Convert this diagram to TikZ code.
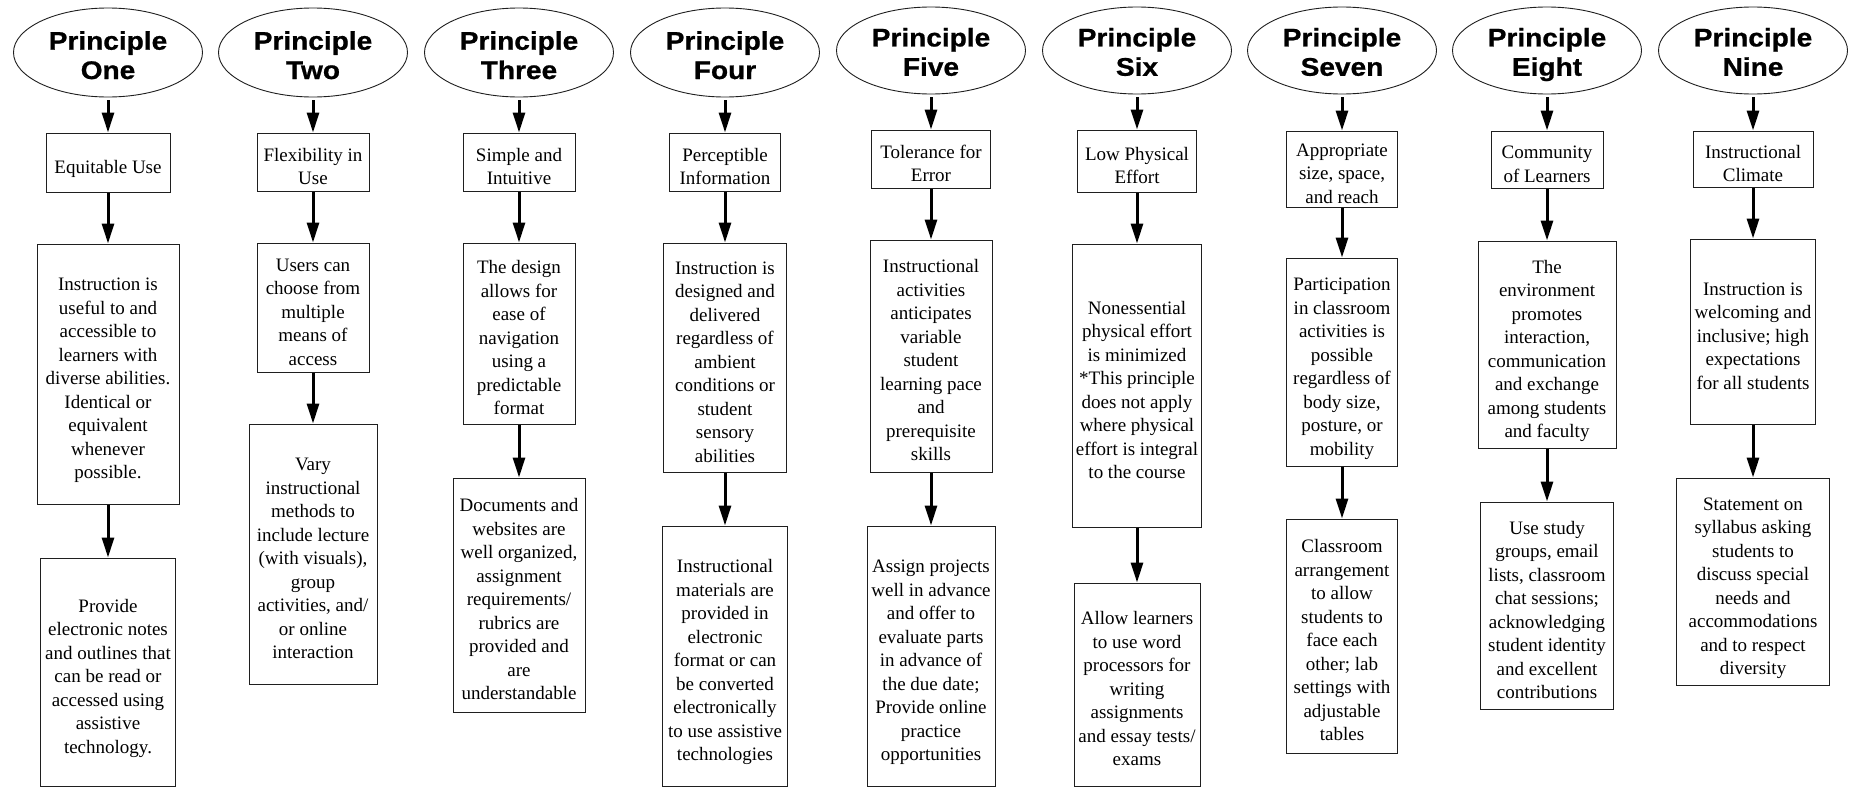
\documentclass[tikz,border=0pt]{standalone}
\usepackage{fontspec}
\usetikzlibrary{shapes.geometric,arrows.meta}
\setmainfont{Liberation Serif}
\newfontfamily\headfont[FakeStretch=1.1,FakeBold=0.8]{Liberation Sans}
\tikzset{
  box/.style={draw=black!88, line width=1pt, inner sep=0pt, align=center,
    font=\rmfamily\fontsize{19}{23.5}\selectfont, text depth=0pt},
  nl/.code={\pgfmathsetmacro\tmpH{#1*23.5-2}\edef\tmpset{\noexpand\tikzset{text height=\tmpH pt}}\tmpset},
  principle/.style={draw=black!88, ellipse, line width=0.9pt, inner sep=0pt, align=center,
    minimum width=189pt, font=\headfont\bfseries\fontsize{25.5}{29.3}\selectfont,
    text depth=0pt, text height=53pt},
  principleb/.style={principle, text height=50.5pt},
  arr/.style={line width=3pt, -{Triangle[length=20pt,width=12pt]}},
  arrtop/.style={arr, shorten <=3pt}
}
\begin{document}
\begin{tikzpicture}[x=1pt,y=-1pt]
\useasboundingbox (0,0) rectangle (1852,787);
\fill[white] (0,0) rectangle (1852,787);

% Column 1
\node[principle, minimum height=89pt] (e1) at (108,52.5) {Principle\\One};
\node[box, nl=1, minimum width=124pt, minimum height=59pt] (b11) at (108,162.5) {Equitable Use};
\node[box, nl=9, minimum width=142pt, minimum height=260pt] (b12) at (108,374) {Instruction is\\useful to and\\accessible to\\learners with\\diverse abilities.\\Identical or\\equivalent\\whenever\\possible.};
\node[box, nl=7, minimum width=135pt, minimum height=228pt] (b13) at (108,672) {Provide\\electronic notes\\and outlines that\\can be read or\\accessed using\\assistive\\technology.};

% Column 2
\node[principle, minimum height=89pt] (e2) at (313,52.5) {Principle\\Two};
\node[box, nl=2, minimum width=112pt, minimum height=58pt] (b21) at (313,162) {Flexibility in\\Use};
\node[box, nl=5, minimum width=112pt, minimum height=129pt] (b22) at (313,307.5) {Users can\\choose from\\multiple\\means of\\access};
\node[box, nl=9, minimum width=128pt, minimum height=260pt] (b23) at (313,554) {Vary\\instructional\\methods to\\include lecture\\(with visuals),\\group\\activities, and/\\or online\\interaction};

% Column 3
\node[principle, minimum height=89pt] (e3) at (519,52.5) {Principle\\Three};
\node[box, nl=2, minimum width=112pt, minimum height=58pt] (b31) at (519,162) {Simple and\\Intuitive};
\node[box, nl=7, minimum width=112pt, minimum height=181pt] (b32) at (519,333.5) {The design\\allows for\\ease of\\navigation\\using a\\predictable\\format};
\node[box, nl=9, minimum width=132pt, minimum height=234pt] (b33) at (519,595) {Documents and\\websites are\\well organized,\\assignment\\requirements/\\rubrics are\\provided and\\are\\understandable};

% Column 4
\node[principle, minimum height=89pt] (e4) at (725,52.5) {Principle\\Four};
\node[box, nl=2, minimum width=111pt, minimum height=58pt] (b41) at (725,162) {Perceptible\\Information};
\node[box, nl=9, minimum width=123pt, minimum height=229pt] (b42) at (725,357.5) {Instruction is\\designed and\\delivered\\regardless of\\ambient\\conditions or\\student\\sensory\\abilities};
\node[box, nl=9, minimum width=125pt, minimum height=260pt] (b43) at (725,656) {Instructional\\materials are\\provided in\\electronic\\format or can\\be converted\\electronically\\to use assistive\\technologies};

% Column 5
\node[principleb, minimum height=87pt] (e5) at (931,50.5) {Principle\\Five};
\node[box, nl=2, minimum width=119pt, minimum height=58pt] (b51) at (931,159) {Tolerance for\\Error};
\node[box, nl=9, minimum width=122pt, minimum height=232pt] (b52) at (931,356) {Instructional\\activities\\anticipates\\variable\\student\\learning pace\\and\\prerequisite\\skills};
\node[box, nl=9, minimum width=128pt, minimum height=260pt] (b53) at (931,656) {Assign projects\\well in advance\\and offer to\\evaluate parts\\in advance of\\the due date;\\Provide online\\practice\\opportunities};

% Column 6
\node[principleb, minimum height=87pt] (e6) at (1137,50.5) {Principle\\Six};
\node[box, nl=2, minimum width=119pt, minimum height=62pt] (b61) at (1137,161) {Low Physical\\Effort};
\node[box, nl=8, minimum width=129pt, minimum height=283pt] (b62) at (1137,385.5) {Nonessential\\physical effort\\is minimized\\*This principle\\does not apply\\where physical\\effort is integral\\to the course};
\node[box, nl=7, minimum width=126pt, minimum height=203pt] (b63) at (1137,684.5) {Allow learners\\to use word\\processors for\\writing\\assignments\\and essay tests/\\exams};

% Column 7
\node[principleb, minimum height=87pt] (e7) at (1342,50.5) {Principle\\Seven};
\node[box, nl=3, minimum width=111pt, minimum height=76pt] (b71) at (1342,169) {Appropriate\\size, space,\\and reach};
\node[box, nl=8, minimum width=111pt, minimum height=208pt] (b72) at (1342,362) {Participation\\in classroom\\activities is\\possible\\regardless of\\body size,\\posture, or\\mobility};
\node[box, nl=9, minimum width=111pt, minimum height=234pt] (b73) at (1342,636) {Classroom\\arrangement\\to allow\\students to\\face each\\other; lab\\settings with\\adjustable\\tables};

% Column 8
\node[principleb, minimum height=87pt] (e8) at (1547,50.5) {Principle\\Eight};
\node[box, nl=2, minimum width=112pt, minimum height=57pt] (b81) at (1547,159.5) {Community\\of Learners};
\node[box, nl=8, minimum width=138pt, minimum height=207pt] (b82) at (1547,344.5) {The\\environment\\promotes\\interaction,\\communication\\and exchange\\among students\\and faculty};
\node[box, nl=8, minimum width=133pt, minimum height=207pt] (b83) at (1547,605.5) {Use study\\groups, email\\lists, classroom\\chat sessions;\\acknowledging\\student identity\\and excellent\\contributions};

% Column 9
\node[principleb, minimum height=87pt] (e9) at (1753,50.5) {Principle\\Nine};
\node[box, nl=2, minimum width=120pt, minimum height=56pt] (b91) at (1753,159) {Instructional\\Climate};
\node[box, nl=5, minimum width=125pt, minimum height=185pt] (b92) at (1753,331.5) {Instruction is\\welcoming and\\inclusive; high\\expectations\\for all students};
\node[box, nl=8, minimum width=153pt, minimum height=207pt] (b93) at (1753,581.5) {Statement on\\syllabus asking\\students to\\discuss special\\needs and\\accommodations\\and to respect\\diversity};

% Connectors
\foreach \c in {1,...,9}{
  \draw[arrtop] (e\c.south) -- (b\c1.north);
  \draw[arr] (b\c1.south) -- (b\c2.north);
  \draw[arr] (b\c2.south) -- (b\c3.north);
}
\end{tikzpicture}
\end{document}
